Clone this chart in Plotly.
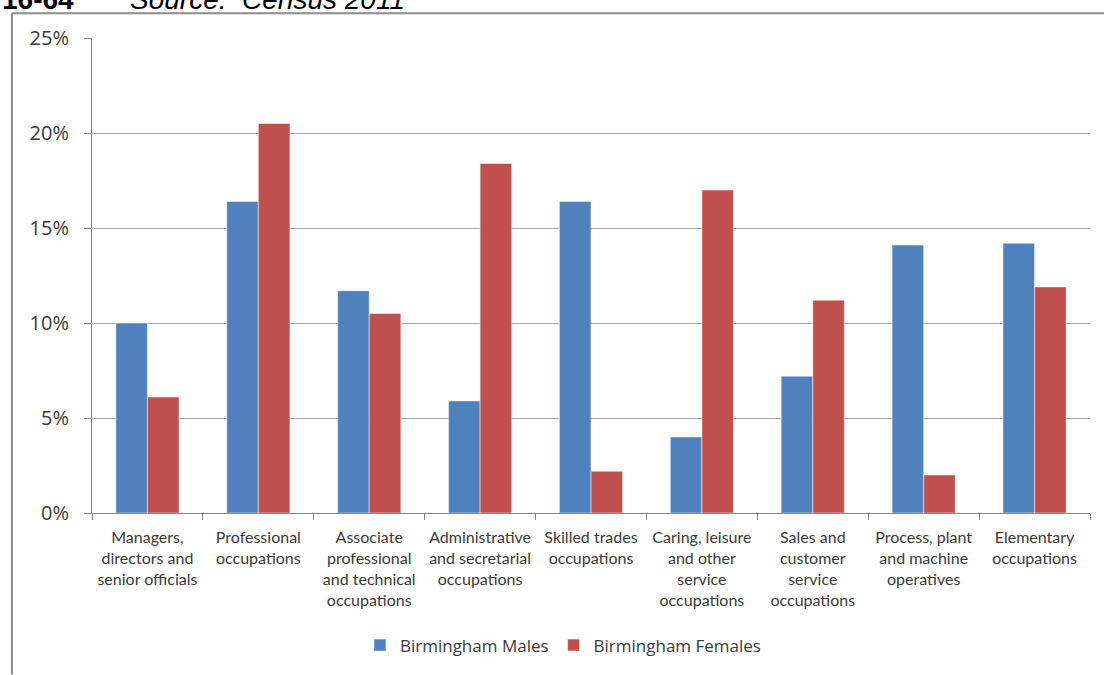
import plotly.graph_objects as go

categories = [
    "Managers,<br>directors and<br>senior officials",
    "Professional<br>occupations",
    "Associate<br>professional<br>and technical<br>occupations",
    "Administrative<br>and secretarial<br>occupations",
    "Skilled trades<br>occupations",
    "Caring, leisure<br>and other<br>service<br>occupations",
    "Sales and<br>customer<br>service<br>occupations",
    "Process, plant<br>and machine<br>operatives",
    "Elementary<br>occupations",
]
males = [10.0, 16.4, 11.7, 5.9, 16.4, 4.0, 7.2, 14.1, 14.2]
females = [6.1, 20.5, 10.5, 18.4, 2.2, 17.0, 11.2, 2.0, 11.9]
y_ticks = [0, 5, 10, 15, 20, 25]
y_tick_labels = ["0%", "5%", "10%", "15%", "20%", "25%"]

FONT = "Open Sans"
TXT = "#3a3a3a"

fig = go.Figure()
fig.add_trace(go.Bar(x=categories, y=males, name="Birmingham Males",
                     marker=dict(color="#4F81BD", line=dict(color="rgba(255,255,255,0.5)", width=1))))
fig.add_trace(go.Bar(x=categories, y=females, name="Birmingham Females",
                     marker=dict(color="#C0504D", line=dict(color="rgba(255,255,255,0.5)", width=1))))

fig.update_layout(
    width=1104, height=675,
    margin=dict(l=92, r=14, t=38, b=159),
    paper_bgcolor="white", plot_bgcolor="white",
    barmode="group", bargap=0.43, bargroupgap=0,
    font=dict(family=FONT, color=TXT),
    showlegend=True,
    legend=dict(orientation="h", x=0.2685, xanchor="left", y=-0.279, yanchor="middle",
                font=dict(size=17, color=TXT, family=FONT), itemwidth=30,
                bgcolor="rgba(0,0,0,0)"),
)
fig.update_yaxes(range=[0, 25], tickvals=y_ticks, ticktext=y_tick_labels,
                 showgrid=True, gridcolor="#A6A6A6", gridwidth=1,
                 showline=True, linecolor="#868686", linewidth=1,
                 ticks="outside", ticklen=7, tickcolor="#868686",
                 ticklabelstandoff=11,
                 tickfont=dict(size=20, color=TXT, family=FONT), zeroline=False)
fig.update_xaxes(showline=True, linecolor="#868686", linewidth=1,
                 ticks="outside", ticklen=6, tickcolor="#868686", tickson="boundaries",
                 ticklabelstandoff=10,
                 tickfont=dict(size=16, color=TXT, family="Lato"), tickangle=0)

# outer chart frame (left and top edges)
fig.add_shape(type="line", xref="paper", yref="paper", x0=-0.0802, x1=-0.0802, y0=1.0523, y1=-0.34,
              line=dict(color="#8C8C8C", width=2))
fig.add_shape(type="line", xref="paper", yref="paper", x0=-0.0802, x1=1.02, y0=1.0523, y1=1.0523,
              line=dict(color="#8C8C8C", width=2))

# caption at top (partly cut off, as in the source image)
fig.add_annotation(xref="paper", yref="paper", x=-0.0922, y=1.0439, xanchor="left", yanchor="bottom",
                   text="<b>16-64</b>", showarrow=False,
                   font=dict(family="Liberation Sans", size=28, color="black"))
fig.add_annotation(xref="paper", yref="paper", x=0.0361, y=1.0439, xanchor="left", yanchor="bottom",
                   text="<i>Source:  Census 2011</i>", showarrow=False,
                   font=dict(family="Liberation Sans", size=28, color="black"))

fig.write_html("out.html")
